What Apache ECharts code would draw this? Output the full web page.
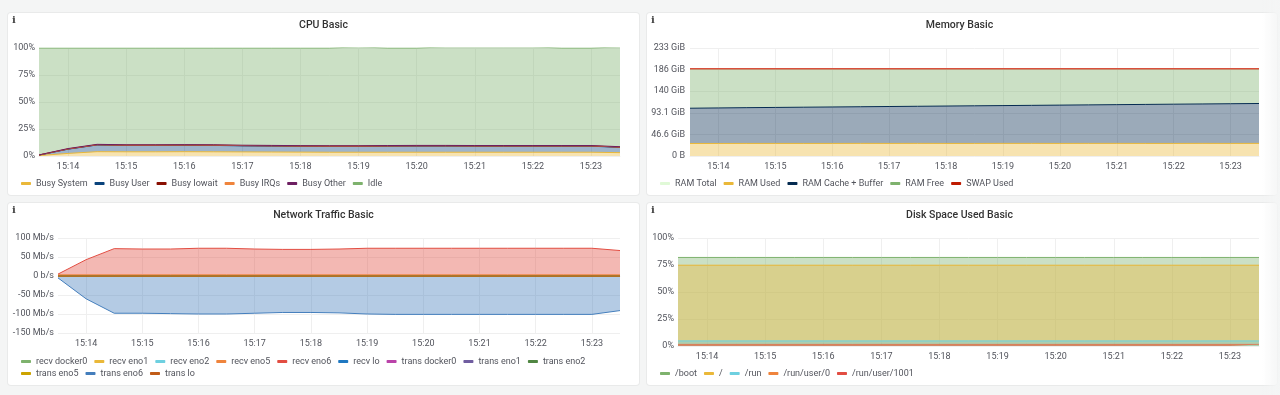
<!DOCTYPE html>
<html>
<head>
<meta charset="utf-8">
<style>
  html, body { margin: 0; padding: 0; background: #f4f5f5; }
  body { width: 1280px; height: 395px; position: relative; overflow: hidden; }
  .panel { position: absolute; width: 631px; height: 182px; background: #fff; border-radius: 3px; box-shadow: 0 0 0 1px #e9eaea; }
  .panel.right { left: 647px; width: 630px; }
  .chart { width: 631px; height: 182px; }
  .right .chart { width: 625px; }
  .info { position: absolute; left: 4px; top: 1px; font: bold 10px "DejaVu Serif", serif; color: #444; }
  .fade { position: absolute; left: 1262px; top: 0; width: 18px; height: 395px; background: linear-gradient(to right, rgba(244,245,245,0), #f4f5f5); }
</style>
</head>
<body>
<div class="panel" style="left:8px;top:13px"><div id="cpu" class="chart"></div><span class="info">i</span></div>
<div class="panel right" style="top:13px"><div id="mem" class="chart"></div><span class="info">i</span></div>
<div class="panel" style="left:8px;top:203px"><div id="net" class="chart"></div><span class="info">i</span></div>
<div class="panel right" style="top:203px"><div id="disk" class="chart"></div><span class="info">i</span></div>
<div class="fade"></div>
<script src="https://cdn.jsdelivr.net/npm/echarts@6/dist/echarts.min.js"></script>
<script>
const times = ['15:13:30','15:14:00','15:14:30','15:15:00','15:15:30','15:16:00','15:16:30','15:17:00','15:17:30','15:18:00','15:18:30','15:19:00','15:19:30','15:20:00','15:20:30','15:21:00','15:21:30','15:22:00','15:22:30','15:23:00','15:23:30']

// CPU, percent
const busySystem = [0.4,2.4,4.0,3.9,3.9,4.0,3.9,3.8,3.7,3.6,3.5,3.5,3.5,3.5,3.5,3.5,3.5,3.5,3.5,3.5,3.1]
const busyUser = [0.4,3.9,6.2,5.9,5.9,5.9,5.9,5.6,5.5,5.4,5.4,5.4,5.6,5.7,5.7,5.6,5.6,5.6,5.6,5.6,4.9]
const busyIowait = [0.1,0.2,0.2,0.2,0.2,0.2,0.2,0.2,0.2,0.2,0.2,0.2,0.2,0.2,0.2,0.2,0.2,0.2,0.2,0.2,0.2]
const busyIrqs = [0,0.1,0.1,0.1,0.1,0.1,0.1,0.1,0.1,0.1,0.1,0.1,0.1,0.1,0.1,0.1,0.1,0.1,0.1,0.1,0.1]
const busyOther = [0.1,0.3,0.3,0.3,0.3,0.3,0.3,0.3,0.3,0.3,0.3,0.3,0.3,0.3,0.3,0.3,0.3,0.3,0.3,0.3,0.3]
const idle = [99,93.1,89.2,89.6,89.6,89.5,89.6,90,90.2,90.4,90.5,91.5,90.3,90.2,91.2,91.3,91.3,91.3,90.3,90.3,92.4]

// memory, GiB
const memTicks = ['0 B','46.6 GiB','93.1 GiB','140 GiB','186 GiB','233 GiB']
const ramTotal = [188,188,188,188,188,188,188,188,188,188,188,188,188,188,188,188,188,188,188,188,188]
const ramUsed = [27.0,27.0,27.1,27.1,27.1,27.1,27.2,27.1,27.2,27.1,27.1,27.2,27.2,27.1,27.2,27.2,27.1,27.1,27.2,27.1,27.2]
const ramCache = [76.0,76.6,77.1,77.6,78.1,78.6,79.0,79.6,80.0,80.6,81.1,81.5,82.0,82.6,83.0,83.5,84.1,84.6,85.0,85.6,86.0]
const ramFree = [85.0,84.4,83.8,83.3,82.8,82.3,81.8,81.3,80.8,80.3,79.8,79.3,78.8,78.3,77.8,77.3,76.8,76.3,75.8,75.3,74.8]
const swapUsed = [0.1,0.1,0.1,0.1,0.1,0.1,0.1,0.1,0.1,0.1,0.1,0.1,0.1,0.1,0.1,0.1,0.1,0.1,0.1,0.1,0.1]

// network, Mb/s
const recvDocker0 = [0,0,0,0,0,0,0,0,0,0,0,0,0,0,0,0,0,0,0,0,0]
const recvEno1 = [0,0,0,0,0,0,0,0,0,0,0,0,0,0,0,0,0,0,0,0,0]
const recvEno2 = [0,0,0,0,0,0,0,0,0,0,0,0,0,0,0,0,0,0,0,0,0]
const recvEno5 = [3,3,3,3,3,3,3,3,3,3,3,3,3,3,3,3,3,3,3,3,3]
const recvEno6 = [5,43,72,71,71,73,73,71,70,70,71,73,73,73,73,73,73,73,73,73,67]
const recvLo = [0.2,0.2,0.2,0.2,0.2,0.2,0.2,0.2,0.2,0.2,0.2,0.2,0.2,0.2,0.2,0.2,0.2,0.2,0.2,0.2,0.2]
const transDocker0 = [0,0,0,0,0,0,0,0,0,0,0,0,0,0,0,0,0,0,0,0,0]
const transEno1 = [0,0,0,0,0,0,0,0,0,0,0,0,0,0,0,0,0,0,0,0,0]
const transEno2 = [0,0,0,0,0,0,0,0,0,0,0,0,0,0,0,0,0,0,0,0,0]
const transEno5 = [0,0,0,0,0,0,0,0,0,0,0,0,0,0,0,0,0,0,0,0,0]
const transEno6 = [-5,-60,-98,-98,-99,-100,-100,-98,-96,-96,-97,-100,-101,-101,-101,-101,-101,-101,-101,-101,-91]
const transLo = [-0.2,-0.2,-0.2,-0.2,-0.2,-0.2,-0.2,-0.2,-0.2,-0.2,-0.2,-0.2,-0.2,-0.2,-0.2,-0.2,-0.2,-0.2,-0.2,-0.2,-0.2]

// disk, percent
const diskBoot = [82,82,82,82,82,82,82,82,82,82,82,82,82,82,82,82,82,82,82,82,82]
const diskRoot = [74.8,74.8,74.8,74.8,74.8,74.8,74.8,74.8,74.8,74.8,74.8,74.8,74.8,74.8,74.8,74.8,74.8,74.8,74.8,74.8,74.8]
const diskRun = [4.7,4.7,4.7,4.7,4.7,4.7,4.7,4.7,4.7,4.7,4.7,4.7,4.7,4.7,4.7,4.7,4.7,4.7,4.7,4.7,4.7]
const diskRunUser0 = [1.5,1.5,1.5,1.5,1.5,1.5,1.5,1.5,1.5,1.5,1.5,1.5,1.5,1.5,1.5,1.5,1.5,1.5,1.5,1.5,1.5]
const diskRunUser1001 = [1.5,1.5,1.5,1.5,1.5,1.5,1.5,1.5,1.5,1.5,1.5,1.5,1.5,1.5,1.5,1.5,1.5,1.5,1.5,1.5,1.5]

const textColor = '#52545c'
const gridColor = '#efefef'
const fontFamily = 'Roboto, "Noto Sans", sans-serif'
const labelFont = { color: textColor, fontSize: 9, fontFamily }

const series = (name, data, color, extra) => ({
  name,
  type: 'line',
  data,
  symbol: 'none',
  lineStyle: { width: 1, color },
  itemStyle: { color },
  areaStyle: { color, opacity: 0.4 },
  emphasis: { disabled: true },
  animation: false,
  ...extra
})

const legendBase = {
  icon: 'roundRect',
  itemWidth: 10,
  itemHeight: 3,
  itemGap: 7,
  padding: 0,
  width: 620,
  textStyle: { ...labelFont, padding: 0 }
}

const baseOption = (title, grid, yAxis, legend, list) => ({
  animation: false,
  title: {
    text: title,
    left: 'center',
    top: 7,
    padding: 0,
    textStyle: { color: '#333', fontSize: 10.5, fontWeight: 500, fontFamily }
  },
  grid: { ...grid, outerBoundsMode: 'none' },
  legend,
  xAxis: {
    type: 'category',
    boundaryGap: false,
    data: times,
    axisLine: { lineStyle: { color: gridColor } },
    axisTick: { show: false },
    axisLabel: {
      ...labelFont,
      margin: 6,
      interval: (i) => i % 2 === 1,
      formatter: (v) => v.slice(0, 5)
    },
    splitLine: { show: true, interval: (i) => i % 2 === 1, lineStyle: { color: gridColor } }
  },
  yAxis: {
    type: 'value',
    axisLine: { show: false },
    axisTick: { show: false },
    splitLine: { lineStyle: { color: gridColor } },
    ...yAxis
  },
  series: list
})

const percent = { min: 0, max: 100, interval: 25, axisLabel: { ...labelFont, margin: 4, formatter: '{value}%' } }

echarts.init(document.getElementById('cpu')).setOption(baseOption(
  'CPU Basic',
  { left: 31, top: 35, width: 581, height: 108 },
  percent,
  { ...legendBase, left: 13, top: 166 },
  [
    series('Busy System', busySystem, '#EAB839', { stack: 'cpu' }),
    series('Busy User', busyUser, '#0A437C', { stack: 'cpu' }),
    series('Busy Iowait', busyIowait, '#890F02', { stack: 'cpu' }),
    series('Busy IRQs', busyIrqs, '#EF843C', { stack: 'cpu' }),
    series('Busy Other', busyOther, '#6D1F62', { stack: 'cpu' }),
    series('Idle', idle, '#7EB26D', { stack: 'cpu' })
  ]
))

echarts.init(document.getElementById('mem')).setOption(baseOption(
  'Memory Basic',
  { left: 43, top: 35, width: 569, height: 108 },
  {
    min: 0,
    max: 232.83,
    interval: 46.566,
    axisLabel: {
      ...labelFont,
      margin: 5,
      formatter: (v) => memTicks[Math.round(v / 46.566)]
    }
  },
  { ...legendBase, left: 13, top: 166 },
  [
    series('RAM Total', ramTotal, '#E0F9D7', { areaStyle: { opacity: 0 } }),
    series('RAM Used', ramUsed, '#EAB839', { stack: 'mem' }),
    series('RAM Cache + Buffer', ramCache, '#052B51', { stack: 'mem' }),
    series('RAM Free', ramFree, '#7EB26D', { stack: 'mem' }),
    series('SWAP Used', swapUsed, '#BF1B00', { stack: 'mem', lineStyle: { width: 1.5, color: '#d9503c' } })
  ]
))

const netNames = ['recv docker0','recv eno1','recv eno2','recv eno5','recv eno6','recv lo','trans docker0','trans eno1','trans eno2','trans eno5','trans eno6','trans lo']

echarts.init(document.getElementById('net')).setOption(baseOption(
  'Network Traffic Basic',
  { left: 50, top: 35, width: 562, height: 95 },
  {
    min: -150,
    max: 100,
    interval: 50,
    axisLabel: {
      ...labelFont,
      margin: 4,
      formatter: (v) => (v === 0 ? '0 b/s' : v + ' Mb/s')
    }
  },
  [
    { ...legendBase, left: 13, top: 154, data: netNames.slice(0, 9) },
    { ...legendBase, left: 13, top: 166, data: netNames.slice(9) }
  ],
  [
    series('recv docker0', recvDocker0, '#7EB26D'),
    series('recv eno1', recvEno1, '#EAB839'),
    series('recv eno2', recvEno2, '#6ED0E0'),
    series('recv eno5', recvEno5, '#EF843C'),
    series('recv eno6', recvEno6, '#E24D42'),
    series('recv lo', recvLo, '#1F78C1'),
    series('trans docker0', transDocker0, '#BA43A9'),
    series('trans eno1', transEno1, '#705DA0'),
    series('trans eno2', transEno2, '#508642'),
    series('trans eno5', transEno5, '#CCA300'),
    series('trans eno6', transEno6, '#447EBC'),
    series('trans lo', transLo, '#C15C17')
  ]
))

echarts.init(document.getElementById('disk')).setOption(baseOption(
  'Disk Space Used Basic',
  { left: 31, top: 35, width: 581, height: 108 },
  percent,
  { ...legendBase, left: 13, top: 166 },
  [
    series('/boot', diskBoot, '#7EB26D'),
    series('/', diskRoot, '#EAB839'),
    series('/run', diskRun, '#6ED0E0'),
    series('/run/user/0', diskRunUser0, '#EF843C', { lineStyle: { width: 1, color: '#EF843C', opacity: 0.4 } }),
    series('/run/user/1001', diskRunUser1001, '#E24D42', { lineStyle: { width: 1, color: '#E24D42', opacity: 0.4 } })
  ]
))
</script>
</body>
</html>
